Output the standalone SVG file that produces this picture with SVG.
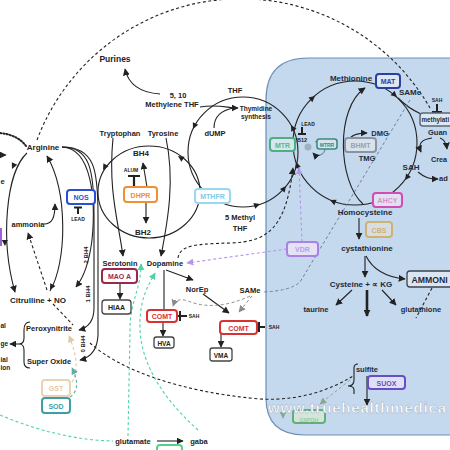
<svg xmlns="http://www.w3.org/2000/svg" xmlns:xlink="http://www.w3.org/1999/xlink" width="450" height="450" viewBox="0 0 450 450">
<style>
.t{font-family:"Liberation Sans",Arial,sans-serif;font-weight:bold;font-size:7.5px;fill:#222;text-anchor:middle}
.p{fill:#1d2b3c}
.l{text-anchor:start}
.s{font-size:5px}
.bt{font-size:7px}
.ln{fill:none;stroke:#222;stroke-width:1.1}
.d{stroke-dasharray:3 2.5}
.bx{stroke-width:2}
</style>
<defs>
<marker id="m" markerUnits="userSpaceOnUse" markerWidth="7" markerHeight="7" viewBox="0 0 10 10" refX="9" refY="5" orient="auto"><path d="M0,0L10,5L0,10z" fill="#222"/></marker>
<marker id="mg" markerUnits="userSpaceOnUse" markerWidth="7" markerHeight="7" viewBox="0 0 10 10" refX="9" refY="5" orient="auto"><path d="M0,0L10,5L0,10z" fill="#8a8a8a"/></marker>
<marker id="mt" markerUnits="userSpaceOnUse" markerWidth="7" markerHeight="7" viewBox="0 0 10 10" refX="9" refY="5" orient="auto"><path d="M0,0L10,5L0,10z" fill="#4fd2ac"/></marker>
<marker id="mtd" markerUnits="userSpaceOnUse" markerWidth="7" markerHeight="7" viewBox="0 0 10 10" refX="9" refY="5" orient="auto"><path d="M0,0L10,5L0,10z" fill="#5aaea8"/></marker>
<marker id="mn" markerUnits="userSpaceOnUse" markerWidth="7" markerHeight="7" viewBox="0 0 10 10" refX="9" refY="5" orient="auto"><path d="M0,0L10,5L0,10z" fill="#e2c6a4"/></marker>
<marker id="mp" markerUnits="userSpaceOnUse" markerWidth="7" markerHeight="7" viewBox="0 0 10 10" refX="9" refY="5" orient="auto"><path d="M0,0L10,5L0,10z" fill="#b894ee"/></marker>
<marker id="mgg" markerUnits="userSpaceOnUse" markerWidth="7" markerHeight="7" viewBox="0 0 10 10" refX="9" refY="5" orient="auto"><path d="M0,0L10,5L0,10z" fill="#8aa890"/></marker>
<path id="ah" d="M0,0L-6,-3L-6,3z" fill="#222"/>
</defs>
<rect width="450" height="450" fill="#fff"/>
<path id="panel" d="M266,100Q266,58 308,58L470,58L470,435L305,435Q266,435 266,398Z" fill="#c4d8ee" stroke="#6d8fb4" stroke-width="1.2"/>

<g id="connectors">
<path class="ln d" d="M37,140A218,218 0 0 1 430,108"/>
<path d="M0,133Q18,135 26,146" fill="none" stroke="#222" stroke-width="2" stroke-dasharray="1.2 2" stroke-linecap="round"/>
<path d="M0,155L6,155" fill="none" stroke="#222" stroke-width="1.6" stroke-dasharray="1 1.8" marker-end="url(#m)"/>
<path class="ln" d="M27,153C6,172 0,240 15,292" marker-end="url(#m)"/>
<use xlink:href="#ah" transform="translate(12,169) rotate(115)"/>
<use xlink:href="#ah" transform="translate(5,246) rotate(88)"/>
<path class="ln" d="M50,291C67,262 68,192 47,156" marker-end="url(#m)"/>
<use xlink:href="#ah" transform="translate(50,290) rotate(118)"/>
<path class="ln" d="M44,224C52,224 55,218 55,204" marker-end="url(#m)"/>
<path class="ln d" d="M47,290L28,233" marker-end="url(#m)"/>
<path class="ln" d="M62,147C92,148 96,200 92,240Q88,272 76,287" marker-end="url(#m)"/>
<path class="ln" d="M62,147C90,147 94,170 94,215L94,308Q94,326 79,330" marker-end="url(#m)"/>
<path class="ln" d="M62,147C95,147 98,170 98,215L98,335Q97,356 80,360" marker-end="url(#m)"/>
<path class="ln d" d="M53,304L73,325"/>
<path class="ln" d="M30,322Q24,322 24,330L24,338Q24,344 19,344Q24,344 24,350L24,362Q24,368 30,368"/>
<path class="ln" d="M19,344L10,344" marker-end="url(#m)"/>
<ellipse cx="149" cy="192" rx="51" ry="46" class="ln"/>
<use xlink:href="#ah" transform="translate(103,170) rotate(120)"/>
<use xlink:href="#ah" transform="translate(178,156) rotate(213)"/>
<path class="ln" d="M147,187L143,163" marker-end="url(#m)"/>
<path class="ln" d="M146,202L146,223" marker-end="url(#m)"/>
<path class="ln" d="M113,138C108,190 118,220 123,256" marker-end="url(#m)"/>
<path class="ln" d="M166,138C175,180 168,220 161,256" marker-end="url(#m)"/>
<circle cx="243" cy="152" r="55" class="ln"/>
<use xlink:href="#ah" transform="translate(193,129) rotate(115)"/>
<use xlink:href="#ah" transform="translate(260,204) rotate(-18)"/>
<use xlink:href="#ah" transform="translate(286,186) rotate(-52)"/>
<use xlink:href="#ah" transform="translate(291,125) rotate(-119)"/>
<path class="ln" d="M160,94Q130,92 125,69" marker-end="url(#m)"/>
<path class="ln" d="M200,107C218,104 228,108 238,108" marker-end="url(#m)"/>
<path class="ln" d="M214,128C214,116 222,110 234,108"/>
<circle cx="355" cy="143" r="62" class="ln"/>
<use xlink:href="#ah" transform="translate(315,96) rotate(-40)"/>
<use xlink:href="#ah" transform="translate(397,97) rotate(42)"/>
<use xlink:href="#ah" transform="translate(405,180) rotate(126)"/>
<use xlink:href="#ah" transform="translate(330,200) rotate(204)"/>
<use xlink:href="#ah" transform="translate(296,162) rotate(252)"/>
<path class="ln" d="M363,204C338,182 335,108 365,88" marker-end="url(#m)"/>
<path class="ln" d="M349,140Q352,133 367,133" marker-end="url(#m)"/>
<path class="ln" d="M398,98C405,105 412,110 421,114"/>
<path class="ln" d="M418,172C425,178 430,179 438,179" marker-end="url(#m)"/>
<path class="ln" d="M432,138Q416,140 421,152" marker-end="url(#m)"/>
<path class="ln" d="M440,138Q446,140 447,149" marker-end="url(#m)"/>
<path d="M315,142A7,7 0 1 1 313,153" fill="none" stroke="#6f8090" stroke-width="1.1" marker-end="url(#m)"/>
<circle cx="308" cy="147" r="3.5" fill="#9fb0c0"/>
<path class="ln" d="M359,218L359,239" marker-end="url(#m)"/>
<path class="ln" d="M365,256L365,277" marker-end="url(#m)"/>
<path class="ln" d="M366,256C372,268 385,277 405,279" marker-end="url(#m)"/>
<path class="ln" d="M352,290L336,305" marker-end="url(#m)"/>
<path d="M367,290L367,316" fill="none" stroke="#222" stroke-width="2.6" marker-end="url(#m)"/>
<path class="ln" d="M382,290L396,305" marker-end="url(#m)"/>
<path class="ln d" d="M432,288L416,318"/>
<path class="ln" d="M358,364Q354,364 354,368L354,380Q354,386 348,386Q354,386 354,390L354,394"/>
<path class="ln" d="M367,376L367,405" marker-end="url(#m)"/>
<path class="ln" d="M166,270L193,280" marker-end="url(#m)"/>
<path class="ln" d="M164,270L164,309"/>
<path class="ln" d="M203,294L229,313" marker-end="url(#m)"/>
<path class="ln" d="M163,322L163,336" marker-end="url(#m)"/>
<path class="ln" d="M221,334L221,347" marker-end="url(#m)"/>
<path class="ln" d="M120,283L120,299" marker-end="url(#m)"/>
<path class="ln d" d="M178,258C180,246 192,244 230,243C268,242 286,228 293,168" marker-end="url(#m)"/>
<path d="M410,100L300,282Q290,291 263,292" fill="none" stroke="#6c809a" stroke-width="1" stroke-dasharray="3 2.5"/>
<path d="M250,296Q215,312 188,301Q176,297 173,306" fill="none" stroke="#8a8a8a" stroke-width="1" stroke-dasharray="3 2.5" marker-end="url(#mg)"/>
<path d="M252,296L239,312" fill="none" stroke="#8a8a8a" stroke-width="1" stroke-dasharray="3 2.5" marker-end="url(#mg)"/>
<path class="ln d" d="M90,343C120,370 180,392 260,399C300,401 330,390 353,376"/>
<path d="M350,380L320,404" fill="none" stroke="#8aa890" stroke-width="1" stroke-dasharray="3 2.5" marker-end="url(#mgg)"/>
<path d="M287,249L187,263" fill="none" stroke="#b894ee" stroke-width="1.1" stroke-dasharray="3 2.5" marker-end="url(#mp)"/>
<path d="M302,242L299,168" fill="none" stroke="#b894ee" stroke-width="1.1" stroke-dasharray="3 2.5" marker-end="url(#mp)"/>
<path d="M72,382C80,370 75,350 69,336" fill="none" stroke="#e2c6a4" stroke-width="1.1" stroke-dasharray="3 2.5" marker-end="url(#mn)"/>
<path d="M70,397C80,390 77,378 72,368" fill="none" stroke="#5aaea8" stroke-width="1.1" stroke-dasharray="3 2.5" marker-end="url(#mtd)"/>
<path d="M128,436L130,330C130,300 141,290 141,264" fill="none" stroke="#4fd2ac" stroke-width="1.1" stroke-dasharray="3 2.5" marker-end="url(#mt)"/>
<path d="M198,430C170,405 142,370 140,330C139,300 147,288 155,273" fill="none" stroke="#4fd2ac" stroke-width="1.1" stroke-dasharray="3 2.5" marker-end="url(#mt)"/>
<path d="M0,415Q60,440 113,441" fill="none" stroke="#4fd2ac" stroke-width="1.1" stroke-dasharray="3 2.5"/>
<path class="ln" d="M157,441L183,441" marker-end="url(#m)"/>
<path d="M283,408L283,418" fill="none" stroke="#8aa890" stroke-width="1" marker-end="url(#mgg)"/>
<path d="M78,207L78,214M74,207.5L82,207.5" stroke="#222" stroke-width="2" fill="none"/>
<path d="M134,176L134,186M128,176L140,176" stroke="#222" stroke-width="2.2" fill="none"/>
<path d="M302,127L302,134M298,134L306,134" stroke="#222" stroke-width="2" fill="none"/>
<path d="M437,104L437,112M432,112L442,112" stroke="#222" stroke-width="2" fill="none"/>
<path d="M178,316L187,316M180,311L180,321" stroke="#222" stroke-width="2" fill="none"/>
<path d="M257,327L265,327M259,322L259,332" stroke="#222" stroke-width="2" fill="none"/>
</g>

<g id="n-labels">
<text class="t" x="115" y="62" style="font-size:8.5px">Purines</text>
<text class="t" x="178" y="98">5, 10</text>
<text class="t" x="172" y="107">Methylene THF</text>
<text class="t" x="235" y="93">THF</text>
<text class="t" x="256" y="111" style="font-size:6.5px">Thymidine</text>
<text class="t" x="256" y="119" style="font-size:6.5px">synthesis</text>
<text class="t" x="215" y="136">dUMP</text>
<text class="t" x="120" y="136">Tryptophan</text>
<text class="t" x="163" y="136">Tyrosine</text>
<text class="t" x="141" y="156" style="font-size:8px">BH4</text>
<text class="t s" x="131" y="172">ALUM</text>
<text class="t" x="143" y="235" style="font-size:8px">BH2</text>
<text class="t s" x="78" y="221">LEAD</text>
<text class="t" x="28" y="227">ammonia</text>
<text class="t" x="43" y="150" style="font-size:8px">Arginine</text>
<text class="t" x="38" y="303" style="font-size:8px">Citrulline + NO</text>
<text class="t l" x="0.5" y="184">e</text>
<text class="t" x="240" y="220">5 Methyl</text>
<text class="t" x="240" y="231">THF</text>
<text class="t s" x="308" y="126">LEAD</text>
<text class="t" x="302" y="142" style="font-size:5.5px">B12</text>
<text class="t p" x="380" y="136">DMG</text>
<text class="t p" x="367" y="161">TMG</text>
<text class="t p" x="351" y="81" style="font-size:8px">Methionine</text>
<text class="t p" x="410" y="95" style="font-size:8px">SAMe</text>
<text class="t s p" x="437" y="102">SAH</text>
<text class="t p l" x="428" y="135">Guan</text>
<text class="t p l" x="431" y="162" style="font-size:7.2px">Crea</text>
<text class="t p" x="411" y="170" style="font-size:8px">SAH</text>
<text class="t p l" x="439" y="181">ad</text>
<text class="t p" x="365" y="215" style="font-size:8px">Homocysteine</text>
<text class="t p" x="367" y="251" style="font-size:8px">cystathionine</text>
<text class="t p" x="361" y="287" style="font-size:8px">Cysteine + ∝ KG</text>
<text class="t p" x="316" y="312">taurine</text>
<text class="t p" x="421" y="312">glutathione</text>
<text class="t p" x="367" y="372">sulfite</text>
<text class="t" x="120" y="266">Serotonin</text>
<text class="t" x="165" y="266">Dopamine</text>
<text class="t" x="197" y="292">NorEp</text>
<text class="t" x="250" y="293">SAMe</text>
<text class="t s" x="194" y="318">SAH</text>
<text class="t s" x="274" y="329">SAH</text>
<text class="t" x="49" y="331">Peroxynitrite</text>
<text class="t" x="49" y="364">Super Oxide</text>
<text class="t l" x="0.5" y="328" style="font-size:6.5px">al</text>
<text class="t l" x="0.5" y="346" style="font-size:6.5px">ge</text>
<text class="t l" x="0.5" y="362" style="font-size:6.5px">ial</text>
<text class="t l" x="0.5" y="370" style="font-size:6.5px">ion</text>
<text class="t" x="133" y="444">glutamate</text>
<text class="t" x="199" y="444">gaba</text>
<text class="t" transform="translate(88,255) rotate(-90)" style="font-size:6px">2 BH4</text>
<text class="t" transform="translate(90,294) rotate(-90)" style="font-size:6px">1 BH4</text>
<text class="t" transform="translate(85,344) rotate(-90)" style="font-size:6px">0 BH4</text>
</g>

<g id="n-NOS"><rect class="bx" x="67" y="190" width="28" height="14" rx="3" fill="#fff" stroke="#2a4fd6"/><text class="t bt" x="81" y="200" style="fill:#2a4fd6">NOS</text></g>
<g id="n-DHPR"><rect class="bx" x="124" y="187" width="33" height="15" rx="3" fill="#fff" stroke="#f0902f"/><text class="t bt" x="140.5" y="197.5" style="fill:#f0902f">DHPR</text></g>
<g id="n-MTHFR"><rect class="bx" x="195" y="189" width="35" height="14" rx="3" fill="#fff" stroke="#9ad8f2"/><text class="t bt" x="212.5" y="199" style="fill:#7ccaea">MTHFR</text></g>
<g id="n-MTR"><rect class="bx" x="270" y="138" width="25" height="13" rx="3" fill="#d6e6ef" stroke="#4fae80"/><text class="t bt" x="282.5" y="147.5" style="fill:#58b888">MTR</text></g>
<g id="n-MTRR"><rect x="317" y="139" width="20" height="10" rx="2.5" fill="#d6e4ee" stroke="#3b8a80" stroke-width="1.6"/><text class="t" x="327" y="146.5" style="font-size:5px;fill:#3b8a80">MTRR</text></g>
<g id="n-BHMT"><rect class="bx" x="345" y="138" width="31" height="14" rx="3" fill="#d8e2ec" stroke="#8a94a0"/><text class="t bt" x="360.5" y="148" style="fill:#98a2ae">BHMT</text></g>
<g id="n-MAT"><rect class="bx" x="376" y="74" width="24" height="14" rx="3" fill="#dce6f4" stroke="#2b3f9e"/><text class="t bt" x="388" y="84" style="fill:#2b3f9e">MAT</text></g>
<g id="n-methylation"><rect x="420" y="113" width="50" height="13" rx="3" fill="#dfe8f2" stroke="#5a6878" stroke-width="1.5"/><text class="t p l" x="421.5" y="122" style="font-size:6.3px">methylati</text></g>
<g id="n-AHCY"><rect class="bx" x="373" y="193" width="29" height="14" rx="3" fill="#dfe2f0" stroke="#d24cb2"/><text class="t bt" x="387.5" y="203" style="fill:#e08cce">AHCY</text></g>
<g id="n-CBS"><rect class="bx" x="366" y="222" width="26" height="15" rx="3" fill="#d8dde4" stroke="#cdb272"/><text class="t bt" x="379" y="232.5" style="fill:#cdb272">CBS</text></g>
<g id="n-AMMONIA"><rect x="407" y="271" width="63" height="16" rx="3" fill="#dce6f2" stroke="#3a4450" stroke-width="1.3"/><text class="t p l" x="411.5" y="282.5" style="font-size:8.7px">AMMONI</text></g>
<g id="n-SUOX"><rect class="bx" x="368" y="376" width="37" height="13" rx="3" fill="#dce2f4" stroke="#6a4cc8"/><text class="t bt" x="386.5" y="385.5" style="fill:#6a4cc8">SUOX</text></g>
<g id="n-VDR"><rect class="bx" x="287" y="242" width="31" height="14" rx="3" fill="#e6e2f6" stroke="#a883e4"/><text class="t bt" x="302.5" y="252" style="fill:#b89cf0">VDR</text></g>
<g id="n-MAOA"><rect class="bx" x="102" y="269" width="35" height="14" rx="3" fill="#fff" stroke="#9a2a4c"/><text class="t bt" x="119.5" y="279" style="fill:#9a2a4c">MAO A</text></g>
<g id="n-HIAA"><rect x="102" y="300" width="29" height="14" rx="3" fill="#fff" stroke="#444" stroke-width="1.3"/><text class="t bt" x="116.5" y="310">HIAA</text></g>
<g id="n-COMT1"><rect class="bx" x="147" y="310" width="30" height="12" rx="3" fill="#fff" stroke="#d83232"/><text class="t bt" x="162" y="319" style="fill:#d83232">COMT</text></g>
<g id="n-HVA"><rect x="154" y="337" width="20" height="11" rx="2.5" fill="#fff" stroke="#444" stroke-width="1.3"/><text class="t" x="164" y="345.5" style="font-size:6.5px">HVA</text></g>
<g id="n-COMT2"><rect class="bx" x="220" y="321" width="37" height="13" rx="3" fill="#fff" stroke="#d83232"/><text class="t bt" x="238.5" y="330.5" style="fill:#d83232">COMT</text></g>
<g id="n-VMA"><rect x="210" y="348" width="22" height="13" rx="2.5" fill="#fff" stroke="#444" stroke-width="1.3"/><text class="t" x="221" y="357.5" style="font-size:6.5px">VMA</text></g>
<g id="n-GST"><rect class="bx" x="42" y="380" width="28" height="16" rx="3" fill="#fff" stroke="#ecd2b2"/><text class="t bt" x="56" y="391" style="fill:#e6c8a6">GST</text></g>
<g id="n-SOD"><rect class="bx" x="42" y="398" width="28" height="15" rx="3" fill="#fff" stroke="#3f9ea4"/><text class="t bt" x="56" y="408.5" style="fill:#3f9ea4">SOD</text></g>
<g id="n-G6PDH"><rect class="bx" x="293" y="410" width="32" height="13" rx="3" fill="#d4e6dc" stroke="#62ae78"/><text class="t" x="309" y="421.5" style="fill:#9cc8a8;font-size:5.5px">G6PDH</text></g>
<g id="n-GAD"><rect class="bx" x="157" y="445" width="25" height="14" rx="3" fill="#fff" stroke="#55d08c"/></g>
<rect x="0" y="228" width="2" height="18" fill="#a060d8"/>
<text x="268" y="413" style="font-family:'Liberation Sans',Arial,sans-serif;font-weight:bold;font-size:15px;letter-spacing:0.8px;fill:#fff;stroke:#9aaabb;stroke-width:0.4">www.truehealthmedica</text>
</svg>
